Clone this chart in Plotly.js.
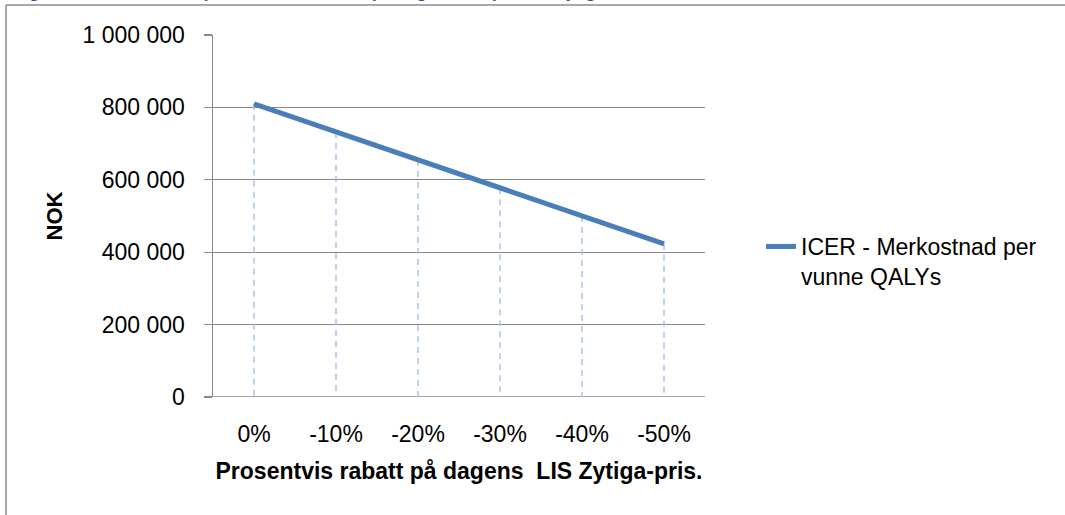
<!DOCTYPE html>
<html>
<head>
<meta charset="utf-8">
<script src="https://cdn.plot.ly/plotly-3.0.1.min.js"></script>
<style>
html,body{margin:0;padding:0;background:#fff;}
#chart{width:1065px;height:515px;}
</style>
</head>
<body>
<div id="chart"></div>
<script>
// Data
const categories = ["0%", "-10%", "-20%", "-30%", "-40%", "-50%"];
const icerValues = [810000, 732000, 655000, 577000, 500000, 423000];
const seriesName = "ICER - Merkostnad per<br>vunne QALYs";
const yTickVals = [0, 200000, 400000, 600000, 800000, 1000000];
const yTickText = ["0", "200 000", "400 000", "600 000", "800 000", "1 000 000"];
const xTitle = "Prosentvis rabatt på dagens&nbsp; LIS Zytiga-pris.";
const yTitle = "NOK";
const figTitle = "Figur 5: ICER ved ulike prosentvise rabatter på dagens LIS pris for Zytiga";

// Drop lines built from the data arrays
const dropX = [], dropY = [];
categories.forEach((c, i) => { dropX.push(c, c, null); dropY.push(icerValues[i], 0, null); });

const FONT = "Liberation Sans, Arial, sans-serif";

// Pixel layout helpers
const L = 213, R = 705, T = 35, B = 397, W = 1065, H = 515;
const px2x = p => (p - L) / (R - L);
const px2y = p => (B - p) / (B - T);

const traces = [
  {
    x: dropX, y: dropY, type: "scatter", mode: "lines",
    line: {color: "#a9c2e8", width: 1.5, dash: "6px,5px"},
    hoverinfo: "skip", showlegend: false
  },
  {
    x: categories, y: icerValues, type: "scatter", mode: "lines",
    name: seriesName,
    line: {color: "#4a7ebb", width: 5}
  }
];

const layout = {
  width: W, height: H,
  margin: {l: L, r: W - R, t: T, b: H - B, pad: 0},
  paper_bgcolor: "#fff", plot_bgcolor: "#fff",
  font: {family: FONT, size: 23, color: "#000"},
  showlegend: true,
  legend: {
    x: px2x(761), xanchor: "left",
    y: px2y(225), yanchor: "top",
    valign: "top",
    font: {family: FONT, size: 23, color: "#000"},
    bgcolor: "rgba(0,0,0,0)", borderwidth: 0,
    tracegroupgap: 0
  },
  xaxis: {
    type: "category",
    range: [-0.5, 5.5],
    showgrid: false, zeroline: false,
    showline: false,
    ticks: "",
    ticklabelstandoff: 21,
    tickfont: {family: FONT, size: 23, color: "#000"},
    title: {text: xTitle, font: {family: FONT, size: 23, color: "#000", weight: "bold"}, standoff: 16},
    fixedrange: true
  },
  yaxis: {
    range: [0, 1000000],
    tickvals: yTickVals, ticktext: yTickText,
    showgrid: true, gridcolor: "#878787", gridwidth: 1.3,
    zeroline: false,
    showline: true, linecolor: "#878787", linewidth: 1.5,
    ticks: "outside", ticklen: 8, tickcolor: "#878787", tickwidth: 1.3,
    ticklabelstandoff: 14,
    tickfont: {family: FONT, size: 23, color: "#000"},
    title: {text: yTitle, font: {family: FONT, size: 22, color: "#000", weight: "bold"}, standoff: 14},
    fixedrange: true
  },
  shapes: [
    // zero line across the x axis incl. tick extension
    {type: "line", xref: "paper", yref: "y", x0: px2x(204), x1: 1, y0: 0, y1: 0,
     line: {color: "#878787", width: 1.5}, layer: "below"},
    // outer frame (top and left edges)
    {type: "line", xref: "paper", yref: "paper", x0: px2x(6), x1: px2x(1100), y0: px2y(5), y1: px2y(5),
     line: {color: "#8c8c8c", width: 1.5}},
    {type: "line", xref: "paper", yref: "paper", x0: px2x(6), x1: px2x(6), y0: px2y(5), y1: px2y(560),
     line: {color: "#8c8c8c", width: 1.5}}
  ],
  annotations: [
    {text: "<b>" + figTitle + "</b>", xref: "paper", yref: "paper",
     x: px2x(12), xanchor: "left", y: px2y(4), yanchor: "bottom",
     showarrow: false, font: {family: FONT, size: 17, color: "#2a5596"}}
  ]
};

Plotly.newPlot("chart", traces, layout, {displayModeBar: false, staticPlot: true});
</script>
</body>
</html>
